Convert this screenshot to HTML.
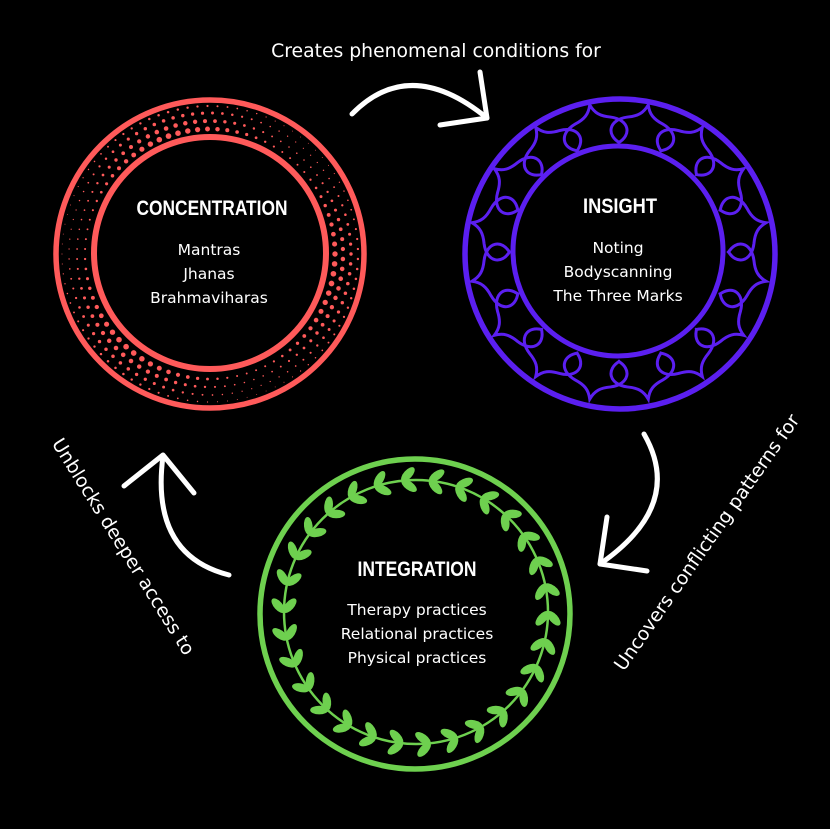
<!DOCTYPE html>
<html><head><meta charset="utf-8"><style>
html,body{margin:0;padding:0;background:#000;}
svg{display:block;}
.t{font-family:"Liberation Sans",sans-serif;font-weight:bold;font-size:21px;fill:#fff;text-anchor:middle;}
.i{font-family:"DejaVu Sans","Liberation Sans",sans-serif;font-size:15.5px;fill:#fff;text-anchor:middle;}
.l{font-family:"DejaVu Sans","Liberation Sans",sans-serif;font-size:18.8px;fill:#fff;text-anchor:middle;}
</style></head><body>
<svg id="s" width="830" height="829" viewBox="0 0 830 829" xmlns="http://www.w3.org/2000/svg">
<rect width="830" height="829" fill="#000"/>
<circle cx="210" cy="254" r="154" fill="none" stroke="#ff5a5a" stroke-width="5.5"/>
<circle cx="210" cy="253" r="116" fill="none" stroke="#ff5a5a" stroke-width="6"/>
<g id="dots" fill="#ff5a5a"></g>
<circle cx="620" cy="254" r="155" fill="none" stroke="#5b1ff0" stroke-width="5.5"/>
<circle cx="618" cy="251" r="105" fill="none" stroke="#5b1ff0" stroke-width="5"/>
<g id="petals" fill="none" stroke="#5b1ff0" stroke-width="3" transform="translate(619,252)"></g>
<circle cx="415" cy="614" r="155" fill="none" stroke="#6ed04f" stroke-width="5.5"/>
<circle cx="416" cy="612" r="132" fill="none" stroke="#6ed04f" stroke-width="2.5"/>
<g id="leaves" fill="#6ed04f"></g>
<g fill="none" stroke="#fff" stroke-width="5" stroke-linecap="round" stroke-linejoin="round">
<path d="M352,114 Q410,55 487,118"/>
<path d="M480,72 L487,118 L440,125"/>
<path d="M644,434 Q685,505 600,564"/>
<path d="M607,517 L600,564 L647,571"/>
<path d="M229,575 Q150,555 163,456"/>
<path d="M124,486 L163,455 L194,493"/>
</g>
<text class="t" x="212" y="215" textLength="151" lengthAdjust="spacingAndGlyphs">CONCENTRATION</text>
<text class="i" x="209" y="255">Mantras</text>
<text class="i" x="209" y="279">Jhanas</text>
<text class="i" x="209" y="303">Brahmaviharas</text>
<text class="t" x="620" y="213" textLength="74" lengthAdjust="spacingAndGlyphs">INSIGHT</text>
<text class="i" x="618" y="253">Noting</text>
<text class="i" x="618" y="277">Bodyscanning</text>
<text class="i" x="618" y="301">The Three Marks</text>
<text class="t" x="417" y="576" textLength="119" lengthAdjust="spacingAndGlyphs">INTEGRATION</text>
<text class="i" x="417" y="615">Therapy practices</text>
<text class="i" x="417" y="639">Relational practices</text>
<text class="i" x="417" y="663">Physical practices</text>
<text class="l" x="436" y="57">Creates phenomenal conditions for</text>
<text class="l" transform="translate(712,546) rotate(-55)">Uncovers conflicting patterns for</text>
<text class="l" transform="translate(118,550) rotate(58)">Unblocks deeper access to</text>
</svg>
<script>
var NS="http://www.w3.org/2000/svg";
function el(p,n,a){var e=document.createElementNS(NS,n);for(var k in a)e.setAttribute(k,a[k]);p.appendChild(e);return e;}
var d=document.getElementById('dots');
var rings=[[125,2.7,0],[133,2.2,0.5],[141,1.7,0],[148,1.2,0.5]];
rings.forEach(function(r){var n=Math.round(2*Math.PI*r[0]/10);for(var k=0;k<n;k++){var a=(k+r[2])/n*2*Math.PI;var m=0.7+0.35*Math.sin(a*3+1);el(d,'circle',{cx:(210+r[0]*Math.cos(a)).toFixed(1),cy:(254+r[0]*Math.sin(a)).toFixed(1),r:(r[1]*m).toFixed(2)});}});
var p=document.getElementById('petals');
for(var k=0;k<16;k++){el(p,'path',{d:"M-20,-107 C-36,-112 -36,-128 -18,-134 C-8,-137 -3,-141 0,-150 C3,-141 8,-137 18,-134 C36,-128 36,-112 20,-107",transform:"rotate("+(11.25+22.5*k)+")"});}
var L=document.getElementById('leaves');
for(var k=0;k<30;k++){var a=k/30*2*Math.PI;var deg=a*180/Math.PI;var x=416+132*Math.cos(a),y=612+132*Math.sin(a);
var td=deg-90;
[-42,42].forEach(function(s){var ang=td+180+s;var r=ang*Math.PI/180;var cx=(x+8.5*Math.cos(r)).toFixed(1),cy=(y+8.5*Math.sin(r)).toFixed(1);el(L,'ellipse',{cx:cx,cy:cy,rx:9,ry:4.3,transform:"rotate("+ang.toFixed(1)+" "+cx+" "+cy+")"});});}
</script>
</body></html>
